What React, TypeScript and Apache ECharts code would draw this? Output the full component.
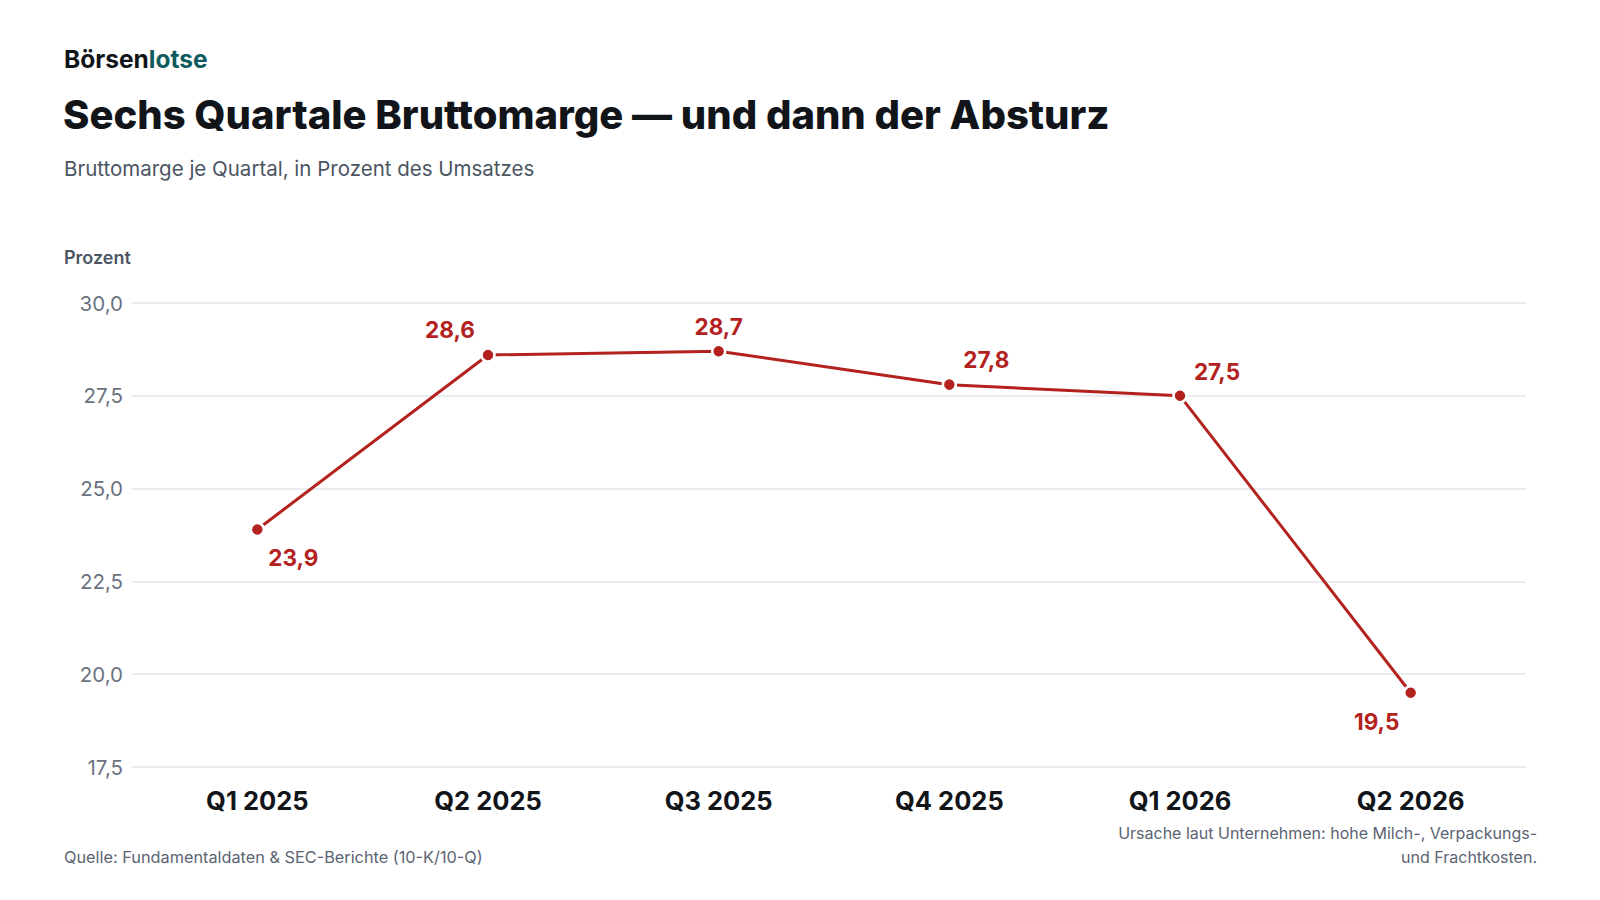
import { useEffect, useRef } from 'react';
import * as echarts from 'echarts';

const quarters = ['Q1 2025', 'Q2 2025', 'Q3 2025', 'Q4 2025', 'Q1 2026', 'Q2 2026'];
const grossMargin = [23.9, 28.6, 28.7, 27.8, 27.5, 19.5];
// label offsets (dx, dy) per point, relative to the dot
const labelOffsets: [number, number][] = [
  [36, 28],
  [-38, -25],
  [0, -25],
  [37, -25],
  [37, -24],
  [-34, 29],
];
const yMin = 17.5;
const yMax = 30;
const yStep = 2.5;

const RED = '#b3221e';
const FONT = 'Inter, "Noto Sans", sans-serif';
const fmt = (v: number) => v.toFixed(1).replace('.', ',');

const TOP = 303;
const BOTTOM = 133;

export default function App() {
  const chartRef = useRef<HTMLDivElement>(null);

  useEffect(() => {
    if (!chartRef.current) return;
    const chart = echarts.init(chartRef.current, undefined, { renderer: 'svg' });

    const note = (text: string, top: number) => ({
      type: 'text',
      right: 63,
      top,
      style: { text, fontFamily: FONT, fontSize: 16, fill: '#5b6472' },
    });

    chart.setOption({
      animation: false,
      backgroundColor: '#ffffff',
      textStyle: { fontFamily: FONT },
      graphic: [
        {
          type: 'text',
          left: 64,
          top: 46.5,
          style: {
            text: '{a|Börsen}{b|lotse}',
            rich: {
              a: { fontFamily: FONT, fontSize: 24.5, fontWeight: 700, fill: '#111418' },
              b: { fontFamily: FONT, fontSize: 24.5, fontWeight: 700, fill: '#0f5a5c' },
            },
          },
        },
        {
          type: 'text',
          left: 63,
          top: 94.5,
          style: {
            text: 'Sechs Quartale Bruttomarge — und dann der Absturz',
            fontFamily: FONT,
            fontSize: 40,
            fontWeight: 800,
            fill: '#111418',
            letterSpacing: -0.15,
          },
        },
        {
          type: 'text',
          left: 64,
          top: 158,
          style: {
            text: 'Bruttomarge je Quartal, in Prozent des Umsatzes',
            fontFamily: FONT,
            fontSize: 20.5,
            fill: '#4b5563',
          },
        },
        {
          type: 'text',
          left: 64,
          top: 248,
          style: {
            text: 'Prozent',
            fontFamily: FONT,
            fontSize: 18,
            fontWeight: 600,
            fill: '#4b5563',
          },
        },
        {
          type: 'text',
          left: 64,
          top: 849,
          style: {
            text: 'Quelle: Fundamentaldaten & SEC-Berichte (10-K/10-Q)',
            fontFamily: FONT,
            fontSize: 16.3,
            fill: '#5b6472',
          },
        },
        note('Ursache laut Unternehmen: hohe Milch-, Verpackungs-', 825),
        note('und Frachtkosten.', 849),
      ],
      // grid 0 carries the gridlines and y labels, grid 1 the line and quarter labels
      grid: [
        { left: 132, right: 74, top: TOP, bottom: BOTTOM },
        { left: 142, right: 74, top: TOP, bottom: BOTTOM },
      ],
      xAxis: [
        { type: 'category', gridIndex: 0, data: quarters, show: false },
        {
          type: 'category',
          gridIndex: 1,
          data: quarters,
          boundaryGap: true,
          axisLine: { show: false },
          axisTick: { show: false },
          splitLine: { show: false },
          axisLabel: {
            margin: 20,
            fontFamily: FONT,
            fontSize: 25.5,
            fontWeight: 700,
            color: '#111418',
          },
        },
      ],
      yAxis: [
        {
          type: 'value',
          gridIndex: 0,
          min: yMin,
          max: yMax,
          interval: yStep,
          axisLine: { show: false },
          axisTick: { show: false },
          splitLine: { lineStyle: { color: '#e4e6e9', width: 1.5 } },
          axisLabel: {
            margin: 9,
            fontFamily: FONT,
            fontSize: 20.5,
            color: '#6b7280',
            formatter: (v: number) => fmt(v),
          },
        },
        {
          type: 'value',
          gridIndex: 1,
          min: yMin,
          max: yMax,
          interval: yStep,
          show: false,
          splitLine: { show: false },
        },
      ],
      series: [
        {
          type: 'line',
          xAxisIndex: 1,
          yAxisIndex: 1,
          data: grossMargin.map((v, i) => ({
            value: v,
            label: { offset: labelOffsets[i] },
          })),
          symbol: 'circle',
          symbolSize: 13,
          lineStyle: { color: RED, width: 3 },
          itemStyle: { color: RED, borderColor: '#ffffff', borderWidth: 2.5 },
          label: {
            show: true,
            position: 'inside',
            align: 'center',
            verticalAlign: 'middle',
            fontFamily: FONT,
            fontSize: 22.5,
            fontWeight: 700,
            color: RED,
            formatter: (p: any) => fmt(p.value),
          },
        },
      ],
    });

    const handleResize = () => chart.resize();
    window.addEventListener('resize', handleResize);
    return () => {
      window.removeEventListener('resize', handleResize);
      chart.dispose();
    };
  }, []);

  return (
    <div
      ref={chartRef}
      style={{ position: 'fixed', left: 0, top: 0, width: 1600, height: 900 }}
    />
  );
}
